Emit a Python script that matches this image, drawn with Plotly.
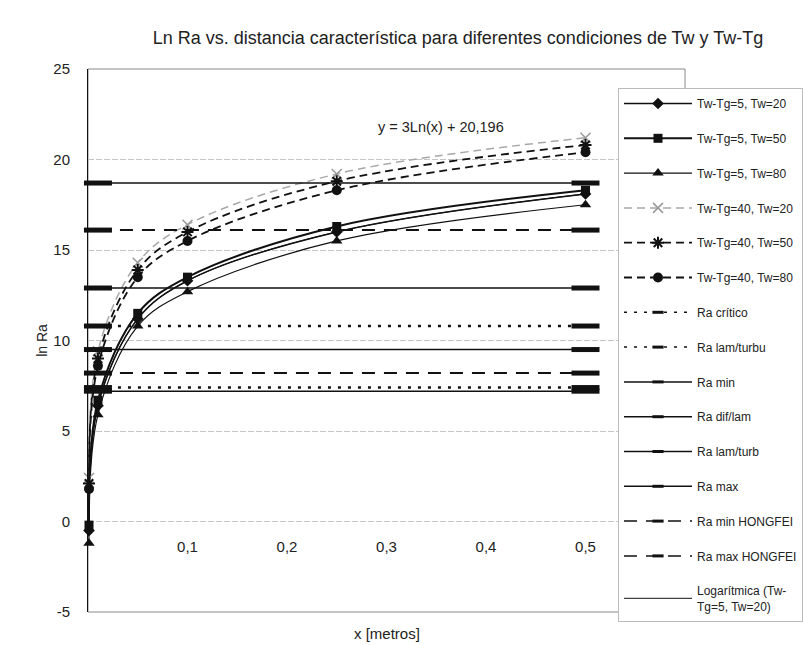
import plotly.graph_objects as go

# ---------------- data ----------------
X = [0.001, 0.01, 0.05, 0.1, 0.25, 0.5]

tw5_tw20 = [-0.5, 6.4, 11.2, 13.3, 16.0, 18.1]
tw5_tw50 = [-0.2, 6.7, 11.5, 13.5, 16.3, 18.3]
tw5_tw80 = [-1.2, 5.9, 10.8, 12.7, 15.5, 17.5]
tw40_tw20 = [2.4, 9.4, 14.3, 16.4, 19.2, 21.2]
tw40_tw50 = [2.1, 9.0, 13.9, 16.0, 18.8, 20.8]
tw40_tw80 = [1.8, 8.6, 13.5, 15.5, 18.3, 20.4]
trend_tw5_tw20 = [-0.5, 6.4, 11.2, 13.3, 16.0, 18.1]

REF_X = [0.01, 0.5]
ra_critico = 7.4
ra_lam_turbu = 10.8
ra_min = 7.2
ra_dif_lam = 9.5
ra_lam_turb = 12.9
ra_max = 18.7
ra_min_hongfei = 8.2
ra_max_hongfei = 16.1

x_ticks = [0.1, 0.2, 0.3, 0.4, 0.5]
x_tick_text = ["0,1", "0,2", "0,3", "0,4", "0,5"]
y_ticks = [-5, 0, 5, 10, 15, 20, 25]
y_tick_text = ["-5", "0", "5", "10", "15", "20", "25"]

TITLE = "Ln Ra vs. distancia característica para diferentes condiciones de Tw y Tw-Tg"
EQUATION = "y = 3Ln(x) + 20,196"

# ---------------- figure ----------------
FONT = "Liberation Sans, Arial, sans-serif"
fig = go.Figure()

def curve(name, ys, symbol, msize, color="#111", dash="solid", width=1.5,
          mline=0, mcolor=None):
    fig.add_trace(go.Scatter(
        x=X, y=ys, name=name, mode="lines+markers", legendgroup=name,
        line=dict(color=color, dash=dash, width=width, shape="spline", smoothing=1.0),
        marker=dict(symbol=symbol, size=msize, color=mcolor or color,
                    line=dict(width=mline, color=mcolor or color)),
        cliponaxis=False,
    ))

curve("Tw-Tg=5, Tw=20", tw5_tw20, "diamond", 9, width=1.5)
curve("Tw-Tg=5, Tw=50", tw5_tw50, "square", 9, width=2)
curve("Tw-Tg=5, Tw=80", tw5_tw80, "triangle-up", 10, width=1.2)
curve("Tw-Tg=40, Tw=20", tw40_tw20, "x-thin-open", 10, color="#a8a8a8",
      dash="8px,5px", width=1.5, mline=1.5, mcolor="#999999")
curve("Tw-Tg=40, Tw=50", tw40_tw50, "asterisk-open", 10, dash="8px,5px",
      width=1.8, mline=2)
curve("Tw-Tg=40, Tw=80", tw40_tw80, "circle", 10, dash="8px,5px", width=1.8)

def ref(name, val, dash, width):
    # the drawn reference line (thick end markers)
    fig.add_trace(go.Scatter(
        x=REF_X, y=[val] * len(REF_X), name=name, mode="lines+markers",
        legendgroup=name, showlegend=False,
        line=dict(color="#111", dash=dash, width=width),
        marker=dict(symbol="line-ew", size=20, color="#111",
                    line=dict(width=5, color="#111")),
        cliponaxis=False,
    ))
    # legend entry only (smaller marker in the key)
    fig.add_trace(go.Scatter(
        x=[None], y=[None], name=name, mode="lines+markers", legendgroup=name,
        line=dict(color="#111", dash=dash, width=min(width, 1.5)),
        marker=dict(symbol="line-ew", size=8, color="#111",
                    line=dict(width=3, color="#111")),
    ))

ref("Ra crítico", ra_critico, "3px,7px", 2.5)
ref("Ra lam/turbu", ra_lam_turbu, "3px,7px", 2.5)
ref("Ra min", ra_min, "solid", 1.5)
ref("Ra dif/lam", ra_dif_lam, "solid", 1.5)
ref("Ra lam/turb", ra_lam_turb, "solid", 1.5)
ref("Ra max", ra_max, "solid", 1.5)
ref("Ra min HONGFEI", ra_min_hongfei, "13px,9px", 2)
ref("Ra max HONGFEI", ra_max_hongfei, "13px,9px", 2)

fig.add_trace(go.Scatter(
    x=X, y=trend_tw5_tw20, name="Logarítmica (Tw-<br>Tg=5, Tw=20)",
    legendgroup="trend", mode="lines",
    line=dict(color="#111", width=1, shape="spline", smoothing=1.0),
    cliponaxis=False,
))

# plot-area frame
fig.add_shape(type="rect", xref="x domain", yref="y domain", x0=0, x1=1, y0=0, y1=1,
              line=dict(color="#888", width=1), layer="below")

fig.add_annotation(x=0.355, y=21.8, xref="x", yref="y", text=EQUATION,
                   showarrow=False, font=dict(size=14.5, color="#222", family=FONT))
fig.add_annotation(x=0.5, y=-21 / 543, xref="x domain", yref="y domain",
                   text="x [metros]", showarrow=False, yanchor="middle",
                   font=dict(size=15, color="#222", family=FONT))

fig.update_layout(
    width=803, height=645,
    margin=dict(l=88, r=118, t=69, b=33, autoexpand=False),
    paper_bgcolor="white", plot_bgcolor="white",
    font=dict(family=FONT, size=14, color="#222"),
    title=dict(text=TITLE, x=458 / 803, xanchor="center", y=1 - 38 / 645,
               yanchor="middle", font=dict(size=18, color="#222", family=FONT)),
    showlegend=True,
    legend=dict(x=(618 - 88) / 597, xanchor="left", y=(612 - 88) / 543, yanchor="top",
                bgcolor="white", bordercolor="#bbb", borderwidth=1,
                font=dict(size=12, color="#222", family=FONT),
                tracegroupgap=15.8, itemwidth=68, traceorder="grouped"),
)

fig.update_xaxes(range=[0, 0.6], tickvals=x_ticks, ticktext=x_tick_text,
                 showgrid=False, zeroline=False, showline=False,
                 anchor="free", position=5 / 30, ticks="",
                 ticklabelstandoff=14, tickfont=dict(size=15))
fig.update_yaxes(range=[-5, 25], tickvals=y_ticks, ticktext=y_tick_text, showgrid=True,
                 gridcolor="#c4c4c4", griddash="6px,2px", gridwidth=1,
                 zeroline=False, showline=True, linecolor="#111", linewidth=1,
                 ticks="", ticklabelstandoff=14, tickfont=dict(size=15),
                 title=dict(text="ln Ra", font=dict(size=14), standoff=2))

fig.write_html("out.html")
